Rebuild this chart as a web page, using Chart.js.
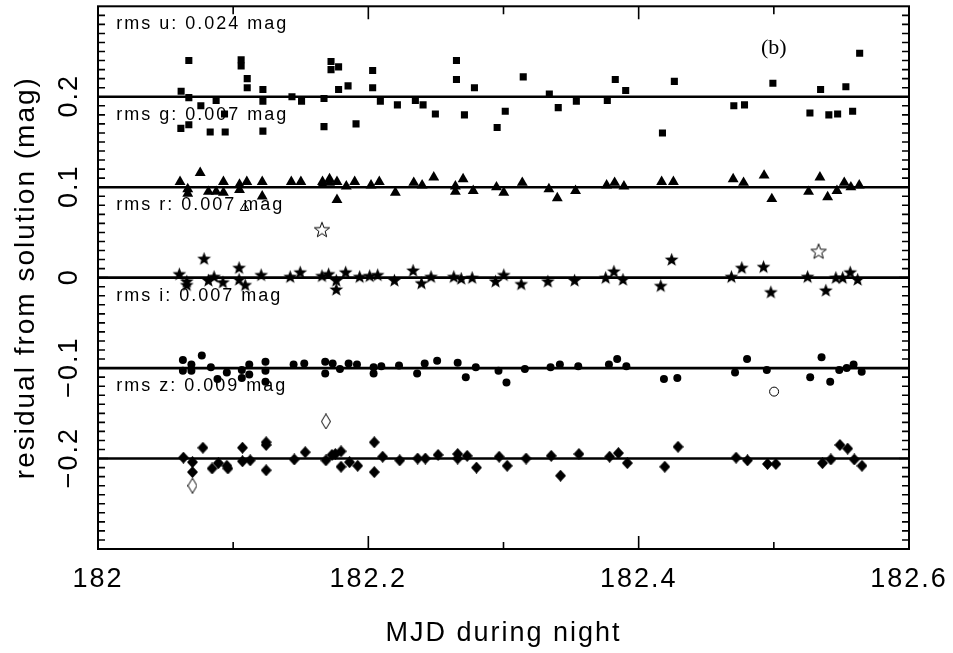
<!DOCTYPE html>
<html>
<head>
<meta charset="utf-8">
<script src="https://cdn.jsdelivr.net/npm/chart.js@4.4.1/dist/chart.umd.min.js"></script>
<style>
  html, body { margin: 0; padding: 0; background: #fff; }
  canvas { display: block; }
</style>
</head>
<body>
<canvas id="residChart" width="953" height="653"></canvas>
<script>
// bands are shifted by 0.1 mag each so they don't overlap
const bands = ['u', 'g', 'r', 'i', 'z'];
const bandOffsets = [0.2, 0.1, 0, -0.1, -0.2];
const rmsLabels = ['rms u: 0.024 mag', 'rms g: 0.007 mag', 'rms r: 0.007 mag', 'rms i: 0.007 mag', 'rms z: 0.009 mag'];

const mjdU = [182.0615, 182.0672, 182.0672, 182.0613, 182.0672, 182.0761, 182.0830, 182.0874, 182.0936, 182.0941,
  182.1059, 182.1059, 182.1104, 182.1104, 182.1220, 182.1220, 182.1220, 182.1435, 182.1506, 182.1672,
  182.1672, 182.1724, 182.1724, 182.1780, 182.1780, 182.1850, 182.1909, 182.2032, 182.2032, 182.2089,
  182.2215, 182.2348, 182.2405, 182.2496, 182.2652, 182.2652, 182.2711, 182.2785, 182.2953, 182.3013,
  182.3146, 182.3339, 182.3405, 182.3539, 182.3768, 182.3827, 182.3904, 182.4176, 182.4264, 182.4704,
  182.4783, 182.4993, 182.5267, 182.5346, 182.5407, 182.5472, 182.5533, 182.5583, 182.5635];
const resU = [0.006, 0.040, -0.001, -0.035, -0.031, -0.010, -0.039, -0.004, -0.019, -0.039,
  0.041, 0.034, 0.020, 0.010, 0.008, -0.005, -0.038, 0.000, -0.005, -0.002,
  -0.033, 0.039, 0.030, 0.033, 0.008, 0.012, -0.030, 0.029, 0.010, -0.005,
  -0.009, -0.004, -0.009, -0.019, 0.040, 0.019, -0.020, 0.010, -0.034, -0.016,
  0.022, 0.003, -0.012, -0.005, -0.004, 0.019, 0.007, -0.040, 0.017, -0.010,
  -0.009, 0.015, -0.018, 0.008, -0.020, -0.019, 0.011, -0.016, 0.048];

const mjdG = [182.0607, 182.0664, 182.0664, 182.0756, 182.0817, 182.0874, 182.0928, 182.0928, 182.1047, 182.1047,
  182.1101, 182.1215, 182.1215, 182.1430, 182.1501, 182.1661, 182.1661, 182.1713, 182.1713, 182.1768,
  182.1768, 182.1837, 182.1899, 182.2020, 182.2081, 182.2200, 182.2336, 182.2398, 182.2484, 182.2644,
  182.2644, 182.2701, 182.2776, 182.2948, 182.3002, 182.3139, 182.3336, 182.3398, 182.3533, 182.3763,
  182.3822, 182.3891, 182.4170, 182.4257, 182.4699, 182.4776, 182.4928, 182.4985, 182.5257, 182.5341,
  182.5398, 182.5467, 182.5521, 182.5570, 182.5632];
const resG = [0.006, -0.002, -0.007, 0.016, -0.005, -0.005, 0.006, -0.006, 0.003, -0.003,
  0.006, 0.006, -0.010, 0.006, 0.006, 0.006, 0.003, 0.009, 0.005, 0.006,
  -0.014, 0.001, 0.006, 0.002, 0.006, -0.006, 0.005, 0.002, 0.011, 0.001,
  -0.005, 0.009, -0.004, 0.000, -0.006, 0.005, -0.002, -0.012, -0.004, 0.002,
  0.005, 0.001, 0.006, 0.006, 0.009, 0.005, 0.013, -0.013, -0.005, 0.011,
  -0.011, -0.004, 0.005, 0.000, 0.002];

const mjdR = [182.0602, 182.0657, 182.0657, 182.0785, 182.0817, 182.0859, 182.0924, 182.1044, 182.1044, 182.1089,
  182.1207, 182.1422, 182.1496, 182.1657, 182.1706, 182.1763, 182.1763, 182.1832, 182.1936, 182.2010,
  182.2069, 182.2193, 182.2331, 182.2393, 182.2464, 182.2632, 182.2687, 182.2768, 182.2941, 182.3002,
  182.3131, 182.3328, 182.3526, 182.3756, 182.3817, 182.3884, 182.4163, 182.4244, 182.4686, 182.4763,
  182.4924, 182.4978, 182.5250, 182.5385, 182.5459, 182.5509, 182.5565, 182.5620];
const resR = [0.004, -0.004, -0.008, 0.021, -0.003, 0.001, -0.005, 0.011, -0.002, -0.008,
  0.003, 0.001, 0.006, 0.002, 0.004, -0.003, -0.013, 0.006, 0.001, 0.002,
  0.003, -0.003, 0.008, -0.006, 0.001, 0.001, -0.001, 0.000, -0.004, 0.003,
  -0.007, -0.004, -0.003, 0.000, 0.007, -0.002, -0.009, 0.020, 0.001, 0.011,
  0.012, -0.016, 0.001, -0.014, 0.000, 0.000, 0.006, -0.002];

const mjdI = [182.0628, 182.0628, 182.0691, 182.0691, 182.0768, 182.0835, 182.0884, 182.0953, 182.1064, 182.1064,
  182.1119, 182.1119, 182.1239, 182.1239, 182.1239, 182.1447, 182.1526, 182.1681, 182.1681, 182.1736,
  182.1790, 182.1854, 182.1916, 182.2039, 182.2039, 182.2096, 182.2227, 182.2361, 182.2417, 182.2509,
  182.2661, 182.2721, 182.2795, 182.2963, 182.3022, 182.3158, 182.3348, 182.3417, 182.3553, 182.3780,
  182.3841, 182.3909, 182.4187, 182.4286, 182.4713, 182.4802, 182.4948, 182.5269, 182.5353, 182.5417,
  182.5484, 182.5539, 182.5590, 182.5650];
const resI = [0.009, -0.003, 0.004, -0.003, 0.014, 0.001, -0.012, -0.005, -0.002, -0.011,
  0.004, -0.007, 0.007, -0.003, -0.015, 0.004, 0.005, 0.007, -0.006, 0.005,
  -0.001, 0.005, 0.004, 0.001, -0.006, 0.002, 0.003, -0.006, 0.005, 0.008,
  0.006, -0.010, 0.001, -0.003, -0.016, -0.001, 0.001, 0.004, 0.002, 0.004,
  0.010, 0.002, -0.012, -0.011, -0.005, 0.010, -0.002, -0.010, 0.012, -0.015,
  -0.002, 0.000, 0.004, -0.004];

const mjdZ = [182.0632, 182.0699, 182.0699, 182.0776, 182.0844, 182.0891, 182.0953, 182.0961, 182.1069, 182.1069,
  182.1126, 182.1244, 182.1244, 182.1244, 182.1452, 182.1533, 182.1686, 182.1731, 182.1756, 182.1798,
  182.1798, 182.1861, 182.1921, 182.2044, 182.2044, 182.2106, 182.2232, 182.2365, 182.2422, 182.2516,
  182.2661, 182.2661, 182.2731, 182.2800, 182.2968, 182.3027, 182.3167, 182.3353, 182.3422, 182.3558,
  182.3785, 182.3850, 182.3916, 182.4193, 182.4291, 182.4721, 182.4805, 182.4953, 182.5015, 182.5360,
  182.5422, 182.5489, 182.5546, 182.5595, 182.5652];
const resZ = [0.001, -0.004, -0.015, 0.012, -0.011, -0.005, -0.008, -0.011, 0.012, -0.003,
  -0.002, 0.018, 0.015, -0.013, -0.001, 0.007, -0.002, 0.004, 0.005, 0.008,
  -0.009, -0.004, -0.008, 0.018, -0.015, 0.002, -0.002, 0.000, 0.000, 0.004,
  0.005, 0.000, 0.003, -0.010, 0.002, -0.008, 0.000, 0.003, -0.019, 0.005,
  0.002, 0.006, -0.005, -0.009, 0.013, 0.001, -0.002, -0.006, -0.006, -0.005,
  -0.001, 0.015, 0.011, -0.001, -0.008];

// rejected points (open symbols)
const rejMjdG = [182.1084];
const rejResG = [-0.023];
const rejMjdR = [182.1657, 182.5331];
const rejResR = [0.053, 0.029];
const rejMjdI = [182.5002];
const rejResI = [-0.026];
const rejMjdZ = [182.1686, 182.0699];
const rejResZ = [0.041, -0.030];

const xTickValues = [182, 182.2, 182.4, 182.6];
const xTickLabels = ['182', '182.2', '182.4', '182.6'];
const xMinorTicks = [182.1, 182.3, 182.5];
const yTickValues = [0.2, 0.1, 0, -0.1, -0.2];
const yTickLabels = ['0.2', '0.1', '0', '\u22120.1', '\u22120.2'];

const FONT = '"Liberation Sans", Arial, sans-serif';

function pts(xs, ys, off) {
  return xs.map((m, i) => ({ x: m, y: off + ys[i] }));
}

// small canvases for the markers Chart.js doesn't have
function marker(w, h, draw) {
  const c = document.createElement('canvas');
  c.width = w; c.height = h;
  const g = c.getContext('2d');
  draw(g, w, h);
  return c;
}
function starPath(g, cx, cy, ro, ri) {
  g.beginPath();
  for (let k = 0; k < 10; k++) {
    const r = k % 2 ? ri : ro;
    const a = -Math.PI / 2 + k * Math.PI / 5;
    g.lineTo(cx + r * Math.cos(a), cy + r * Math.sin(a));
  }
  g.closePath();
}
const starFilled = marker(15, 15, (g) => { starPath(g, 7.5, 8, 7.2, 3); g.fillStyle = '#000'; g.fill(); });
const starOpen = marker(18, 18, (g) => { starPath(g, 9, 9.5, 8, 3.3); g.strokeStyle = '#000'; g.lineWidth = 1; g.stroke(); });
const diamondFilled = marker(11, 12, (g, w, h) => {
  g.beginPath(); g.moveTo(w / 2, 0); g.lineTo(w, h / 2); g.lineTo(w / 2, h); g.lineTo(0, h / 2); g.closePath();
  g.fillStyle = '#000'; g.fill();
});
const diamondOpen = marker(10, 16, (g, w, h) => {
  g.beginPath(); g.moveTo(w / 2, 0.5); g.lineTo(w - 0.5, h / 2); g.lineTo(w / 2, h - 0.5); g.lineTo(0.5, h / 2); g.closePath();
  g.strokeStyle = '#000'; g.lineWidth = 1; g.stroke();
});

function bandLine(off) {
  return {
    type: 'line',
    data: [{ x: 182, y: off }, { x: 182.6, y: off }],
    borderColor: '#000', borderWidth: 2.6, pointRadius: 0, order: 10
  };
}

const datasets = [
  { label: 'u', data: pts(mjdU, resU, bandOffsets[0]), pointStyle: 'rect', pointRadius: 5, backgroundColor: '#000', borderColor: '#000', borderWidth: 0 },
  { label: 'g', data: pts(mjdG, resG, bandOffsets[1]), pointStyle: 'triangle', pointRadius: 6.3, backgroundColor: '#000', borderColor: '#000', borderWidth: 0 },
  { label: 'g rej', data: pts(rejMjdG, rejResG, bandOffsets[1]), pointStyle: 'triangle', pointRadius: 5, backgroundColor: '#fff', borderColor: '#000', borderWidth: 1 },
  { label: 'r', data: pts(mjdR, resR, bandOffsets[2]), pointStyle: starFilled },
  { label: 'r rej', data: pts(rejMjdR, rejResR, bandOffsets[2]), pointStyle: starOpen },
  { label: 'i', data: pts(mjdI, resI, bandOffsets[3]), pointStyle: 'circle', pointRadius: 4, backgroundColor: '#000', borderColor: '#000', borderWidth: 0 },
  { label: 'i rej', data: pts(rejMjdI, rejResI, bandOffsets[3]), pointStyle: 'circle', pointRadius: 4.5, backgroundColor: '#fff', borderColor: '#000', borderWidth: 1 },
  { label: 'z', data: pts(mjdZ, resZ, bandOffsets[4]), pointStyle: diamondFilled },
  { label: 'z rej', data: pts(rejMjdZ, rejResZ, bandOffsets[4]), pointStyle: diamondOpen }
].concat(bandOffsets.map(bandLine));

const framePlugin = {
  id: 'frame',
  beforeDraw(chart) {
    chart.ctx.letterSpacing = '2px';
  },
  afterDraw(chart) {
    const { ctx, chartArea: a, scales: { x, y } } = chart;
    ctx.save();
    ctx.strokeStyle = '#000';
    ctx.lineWidth = 2;
    ctx.strokeRect(a.left, a.top, a.right - a.left, a.bottom - a.top);

    // inward ticks
    ctx.lineWidth = 1.6;
    ctx.beginPath();
    xTickValues.forEach(v => {
      const px = x.getPixelForValue(v);
      ctx.moveTo(px, a.bottom); ctx.lineTo(px, a.bottom - 13);
      ctx.moveTo(px, a.top); ctx.lineTo(px, a.top + 13);
    });
    xMinorTicks.forEach(v => {
      const px = x.getPixelForValue(v);
      ctx.moveTo(px, a.bottom); ctx.lineTo(px, a.bottom - 7);
      ctx.moveTo(px, a.top); ctx.lineTo(px, a.top + 8);
    });
    for (let k = -29; k <= 29; k++) {
      const py = y.getPixelForValue(k / 100);
      const len = k % 10 === 0 ? 10 : 7;
      ctx.moveTo(a.left, py); ctx.lineTo(a.left + len, py);
      ctx.moveTo(a.right, py); ctx.lineTo(a.right - len, py);
    }
    ctx.stroke();

    // rotated y tick labels
    ctx.fillStyle = '#000';
    ctx.font = '27px ' + FONT;
    ctx.textAlign = 'center';
    ctx.textBaseline = 'middle';
    yTickValues.forEach((v, i) => {
      ctx.save();
      ctx.translate(70, y.getPixelForValue(v));
      ctx.rotate(-Math.PI / 2);
      ctx.fillText(yTickLabels[i], 1, 0);
      ctx.restore();
    });

    // rms labels under each band line
    ctx.font = '18px ' + FONT;
    ctx.textAlign = 'left';
    rmsLabels.forEach((t, i) => {
      ctx.fillText(t, x.getPixelForValue(182.0135), y.getPixelForValue(bandOffsets[i] + 0.08));
    });

    ctx.letterSpacing = '0px';
    ctx.font = '22px "Liberation Serif", "Times New Roman", serif';
    ctx.textAlign = 'center';
    ctx.fillText('(b)', x.getPixelForValue(182.5), y.getPixelForValue(0.254));
    ctx.restore();
  }
};

new Chart(document.getElementById('residChart'), {
  type: 'scatter',
  data: { datasets },
  options: {
    responsive: false,
    animation: false,
    layout: { padding: { left: 0, right: 44, top: 6, bottom: 0 } },
    plugins: { legend: { display: false }, tooltip: { enabled: false } },
    scales: {
      x: {
        type: 'linear', min: 182, max: 182.6,
        grid: { display: false, drawTicks: false },
        border: { display: false },
        afterBuildTicks: s => { s.ticks = xTickValues.map(v => ({ value: v })); },
        afterFit: s => { s.height = 104; s.paddingLeft = 0; s.paddingRight = 0; },
        ticks: {
          autoSkip: false, maxRotation: 0, padding: 14, color: '#000',
          font: { family: FONT, size: 27 },
          callback: (v, i) => xTickLabels[i]
        },
        title: { display: true, text: 'MJD during night', color: '#000', font: { family: FONT, size: 27 }, padding: { top: 0, bottom: 3 } }
      },
      y: {
        type: 'linear', min: -0.3, max: 0.3,
        grid: { display: false, drawTicks: false },
        border: { display: false },
        ticks: { display: false },
        afterFit: s => { s.width = 98; s.paddingTop = 0; s.paddingBottom = 0; },
        title: { display: true, text: 'residual from solution (mag)', color: '#000', font: { family: FONT, size: 28 }, padding: { top: 9, bottom: 0 } }
      }
    }
  },
  plugins: [framePlugin]
});
</script>
</body>
</html>
